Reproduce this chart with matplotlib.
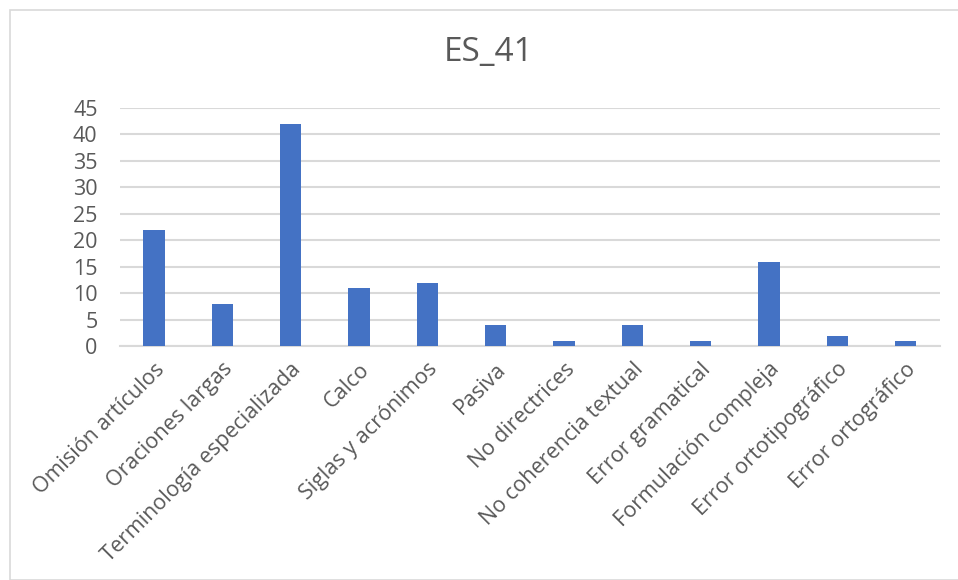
import matplotlib
matplotlib.use("Agg")
import matplotlib.pyplot as plt
from matplotlib.patches import Rectangle

categories = [
    "Omisión artículos", "Oraciones largas", "Terminología especializada",
    "Calco", "Siglas y acrónimos", "Pasiva", "No directrices",
    "No coherencia textual", "Error gramatical", "Formulación compleja",
    "Error ortotipográfico", "Error ortográfico",
]
values = [22, 8, 42, 11, 12, 4, 1, 4, 1, 16, 2, 1]
yticks = [0, 5, 10, 15, 20, 25, 30, 35, 40, 45]
title = "ES_41"

text_color = "#595959"
bar_color = "#4472C4"
grid_color = "#D9D9D9"

plt.rcParams["font.family"] = ["Open Sans", "DejaVu Sans"]

fig = plt.figure(figsize=(9.58, 5.8), dpi=100)
fig.patches.append(Rectangle((10 / 958, 0), 1.0, 1 - 10 / 580,
                             transform=fig.transFigure, fill=False,
                             edgecolor="#D9D9D9", linewidth=1.2))

ax = fig.add_axes([0.125, 0.403, 0.856, 0.411])
x = list(range(len(categories)))
ax.bar(x, values, width=0.313, color=bar_color, zorder=3)

ax.set_xlim(-0.5, len(categories) - 0.5)
ax.set_ylim(0, 45)
ax.set_yticks(yticks)
ax.set_yticklabels([str(v) for v in yticks], fontsize=15.5, color=text_color)
ax.set_xticks(x)
ax.set_xticklabels(categories, rotation=45, ha="right", rotation_mode="anchor",
                   fontsize=15.5, color=text_color)
ax.tick_params(axis="both", length=0)
ax.tick_params(axis="x", pad=9)
ax.tick_params(axis="y", pad=16)

ax.grid(axis="y", color=grid_color, linewidth=1.5, zorder=0)
for s in ["top", "right", "left"]:
    ax.spines[s].set_visible(False)
ax.spines["bottom"].set_color(grid_color)
ax.spines["bottom"].set_linewidth(1.5)

fig.text(0.510, 0.91, title, ha="center", va="center", fontsize=24,
         color=text_color)

fig.savefig("out.png", dpi=100)
